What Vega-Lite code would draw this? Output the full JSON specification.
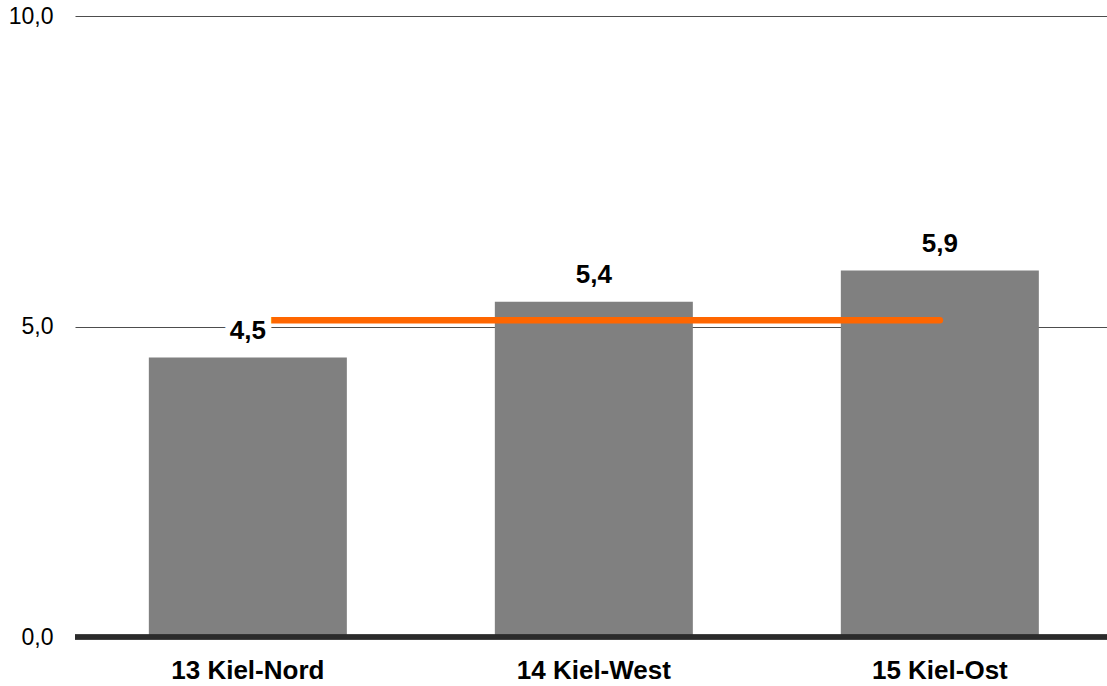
{
  "$schema": "https://vega.github.io/schema/vega-lite/v6.json",
  "autosize": "none",
  "width": 1032,
  "height": 621,
  "padding": {"left": 75, "top": 16, "right": 0, "bottom": 49},
  "background": "white",
  "config": {
    "view": {"stroke": null},
    "font": "Liberation Sans",
    "locale": {"number": {"decimal": ",", "thousands": ".", "grouping": [3], "currency": ["", " €"]}}
  },
  "data": {
    "values": [
      {"bezirk": "13 Kiel-Nord", "wert": 4.5, "schnitt": 5.1},
      {"bezirk": "14 Kiel-West", "wert": 5.4, "schnitt": 5.1},
      {"bezirk": "15 Kiel-Ost", "wert": 5.9, "schnitt": 5.1}
    ]
  },
  "layer": [
    {
      "mark": {"type": "bar", "color": "#808080"},
      "encoding": {
        "x": {
          "field": "bezirk",
          "type": "nominal",
          "sort": null,
          "scale": {"paddingInner": 0.4277, "paddingOuter": 0.2052, "align": 0.52},
          "axis": {
            "title": null,
            "ticks": false,
            "domain": false,
            "labelAngle": 0,
            "labelFont": "Liberation Sans",
            "labelFontWeight": "bold",
            "labelFontSize": 26,
            "labelColor": "#000000",
            "labelPadding": 20
          }
        },
        "y": {
          "field": "wert",
          "type": "quantitative",
          "scale": {"domain": [0, 10], "nice": false},
          "axis": {
            "title": null,
            "values": [0, 5, 10],
            "format": ".1f",
            "ticks": false,
            "domain": false,
            "grid": true,
            "gridColor": "#4d4d4d",
            "gridWidth": 1,
            "labelFont": "Liberation Sans",
            "labelFontSize": 23,
            "labelColor": "#000000",
            "labelPadding": 22
          }
        }
      }
    },
    {
      "mark": {"type": "line", "color": "#ff6600", "strokeWidth": 6.5, "strokeCap": "round"},
      "encoding": {
        "x": {"field": "bezirk", "type": "nominal", "sort": null},
        "y": {"field": "schnitt", "type": "quantitative"}
      }
    },
    {
      "mark": {"type": "text", "baseline": "alphabetic", "dy": -19, "fontSize": 26, "fontWeight": "bold", "color": "white", "stroke": "white", "strokeWidth": 14, "strokeJoin": "miter"},
      "encoding": {
        "x": {"field": "bezirk", "type": "nominal", "sort": null},
        "y": {"field": "wert", "type": "quantitative"},
        "text": {"field": "wert", "type": "quantitative", "format": ".1f"}
      }
    },
    {
      "mark": {"type": "text", "baseline": "alphabetic", "dy": -19, "fontSize": 26, "fontWeight": "bold", "color": "#000000"},
      "encoding": {
        "x": {"field": "bezirk", "type": "nominal", "sort": null},
        "y": {"field": "wert", "type": "quantitative"},
        "text": {"field": "wert", "type": "quantitative", "format": ".1f"}
      }
    },
    {
      "mark": {"type": "rule", "color": "#2b2b2b", "strokeWidth": 5},
      "encoding": {
        "y": {"datum": 0}
      }
    }
  ]
}
